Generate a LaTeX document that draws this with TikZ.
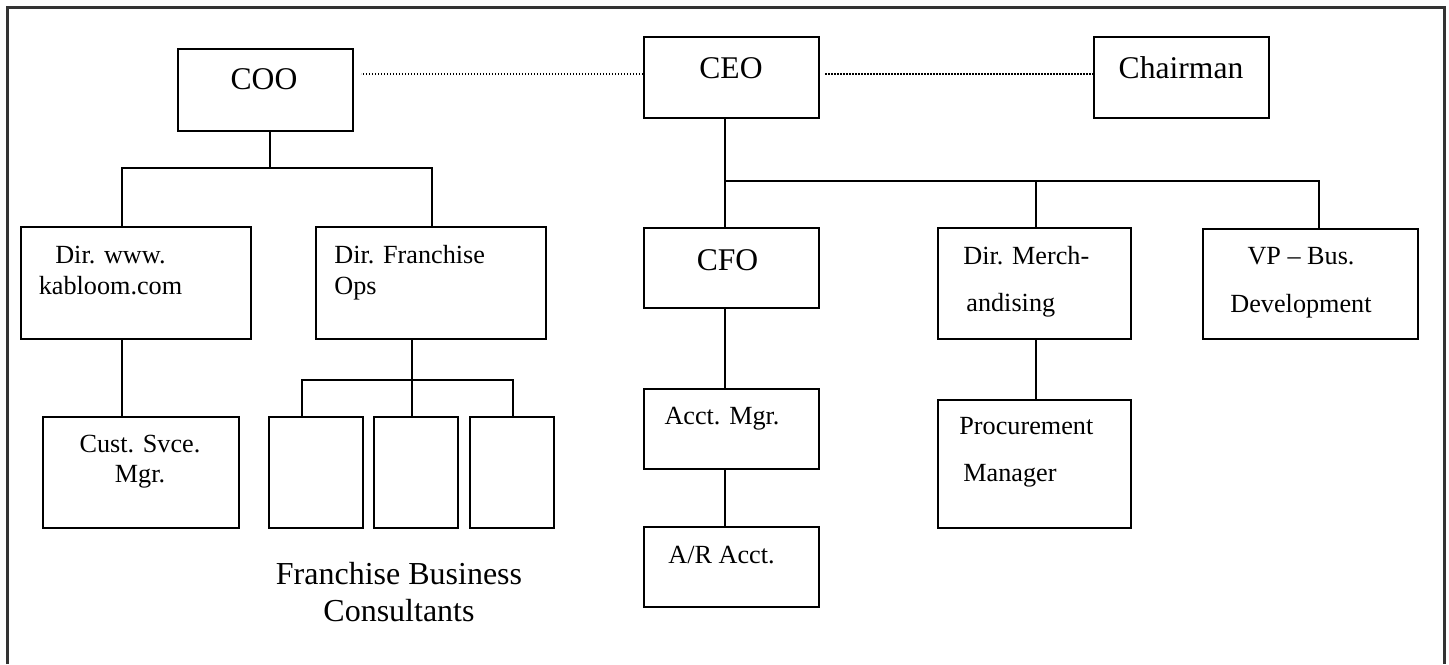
\documentclass[tikz,border=0pt]{standalone}
\usepackage{fontspec}
\setmainfont{Liberation Serif}
\usetikzlibrary{shapes,arrows}
\tikzstyle{block} = [rectangle, draw, line width=1.1pt, inner sep=0pt]
\tikzstyle{line} = [draw, line width=1pt]
\tikzstyle{dots} = [draw, line width=0.7pt, dash pattern=on 0.7pt off 0.8pt]
\tikzstyle{big} = [font=\fontsize{15.8}{19}\selectfont, anchor=base, inner sep=0pt]
\tikzstyle{small} = [font=\fontsize{13.1}{15.5}\selectfont, anchor=base, align=center, inner sep=0pt]
\tikzstyle{wide} = [font=\fontsize{13.1}{23.5}\selectfont, anchor=base west, align=left, inner sep=0pt]

\begin{document}
\begin{tikzpicture}[x=0.5pt, y=-0.5pt]
\useasboundingbox (0,0) rectangle (1449,664);
% frame, open at the bottom
\draw [line width=1.5pt, black!80] (7,664) -- (7,7.5) -- (1444,7.5) -- (1444,664);

% Place boxes
\node [block, minimum width=87.5pt, minimum height=41pt] (coo) at (265.5,90) {};
\node [block, minimum width=87.5pt, minimum height=40.5pt] (ceo) at (731.5,77.5) {};
\node [block, minimum width=87.5pt, minimum height=40.5pt] (chair) at (1181.5,77.5) {};
\node [block, minimum width=115pt, minimum height=56pt] (dirweb) at (136,283) {};
\node [block, minimum width=115pt, minimum height=56pt] (dirfran) at (431,283) {};
\node [block, minimum width=87.5pt, minimum height=40pt] (cfo) at (731.5,268) {};
\node [block, minimum width=96.5pt, minimum height=55.5pt] (merch) at (1034.5,283.5) {};
\node [block, minimum width=107.5pt, minimum height=55pt] (vp) at (1310.5,284) {};
\node [block, minimum width=98pt, minimum height=55.5pt] (cust) at (141,472.5) {};
\node [block, minimum width=47pt, minimum height=55.5pt] (fbc1) at (316,472.5) {};
\node [block, minimum width=42pt, minimum height=55.5pt] (fbc2) at (416,472.5) {};
\node [block, minimum width=42pt, minimum height=55.5pt] (fbc3) at (512,472.5) {};
\node [block, minimum width=87.5pt, minimum height=40pt] (acct) at (731.5,429) {};
\node [block, minimum width=87.5pt, minimum height=40pt] (ar) at (731.5,567) {};
\node [block, minimum width=96.5pt, minimum height=64pt] (proc) at (1034.5,464) {};

% Texts (multi-line ones sit on the baseline of their last line)
\node [big] (coo-t) at (264,89) {COO};
\node [big] (ceo-t) at (731,78) {CEO};
\node [big] (chair-t) at (1181,78) {Chairman};
\node [big] (cfo-t) at (727.5,270) {CFO};
\node [small] (dirweb-t) at (110.5,294) {Dir. www.\\kabloom.com};
\node [small, align=left, anchor=base west] (dirfran-t) at (334,294) {Dir. Franchise\\Ops};
\node [small, font=\fontsize{13.1}{15}\selectfont] (cust-t) at (140,482) {Cust. Svce.\\Mgr.};
\node [small, font=\fontsize{16}{18.5}\selectfont] (fbc-t) at (399,621) {Franchise Business\\Consultants};
\node [small] (acct-t) at (722,424) {Acct. Mgr.};
\node [small] (ar-t) at (721.5,563) {A/R Acct.};
\node [wide] (merch-t) at (963,311) {Dir. Merch-\\\hspace{1.5pt}andising};
\node [wide] (proc-t) at (959,481) {Procurement\\\hspace{2pt}Manager};
\node [small, font=\fontsize{13.1}{24}\selectfont] (vp-t) at (1301,312) {VP -- Bus.\\Development};

% Links
\coordinate (coobar) at (270,168);
\coordinate (ceobar) at (725,181);
\coordinate (fbcbar) at (412,380);
\path [dots] ([yshift=1.75pt]ceo.west) -- ++(-282,0);
\path [dots] ([xshift=2.5pt,yshift=1.75pt]ceo.east) -- ([yshift=1.75pt]chair.west);
\path [line] (coo.south -| coobar) -- (coobar);
\path [line] (dirweb.north -| 122,0) |- (coobar) -| (dirfran.north -| 432,0);
\path [line] (dirweb.south -| 122,0) -- (cust.north -| 122,0);
\path [line] (dirfran.south -| fbcbar) -- (fbc2.north -| fbcbar);
\path [line] (fbc1.north -| 302,0) |- (fbcbar) -| (fbc3.north -| 513,0);
\path [line] (ceo.south -| ceobar) -- (cfo.north -| ceobar);
\path [line] (ceobar) -| (vp.north -| 1319,0);
\path [line] (merch.north -| 1036,0) |- (ceobar);
\path [line] (cfo.south -| ceobar) -- (acct.north -| ceobar);
\path [line] (acct.south -| ceobar) -- (ar.north -| ceobar);
\path [line] (merch.south -| 1036,0) -- (proc.north -| 1036,0);
\end{tikzpicture}
\end{document}
